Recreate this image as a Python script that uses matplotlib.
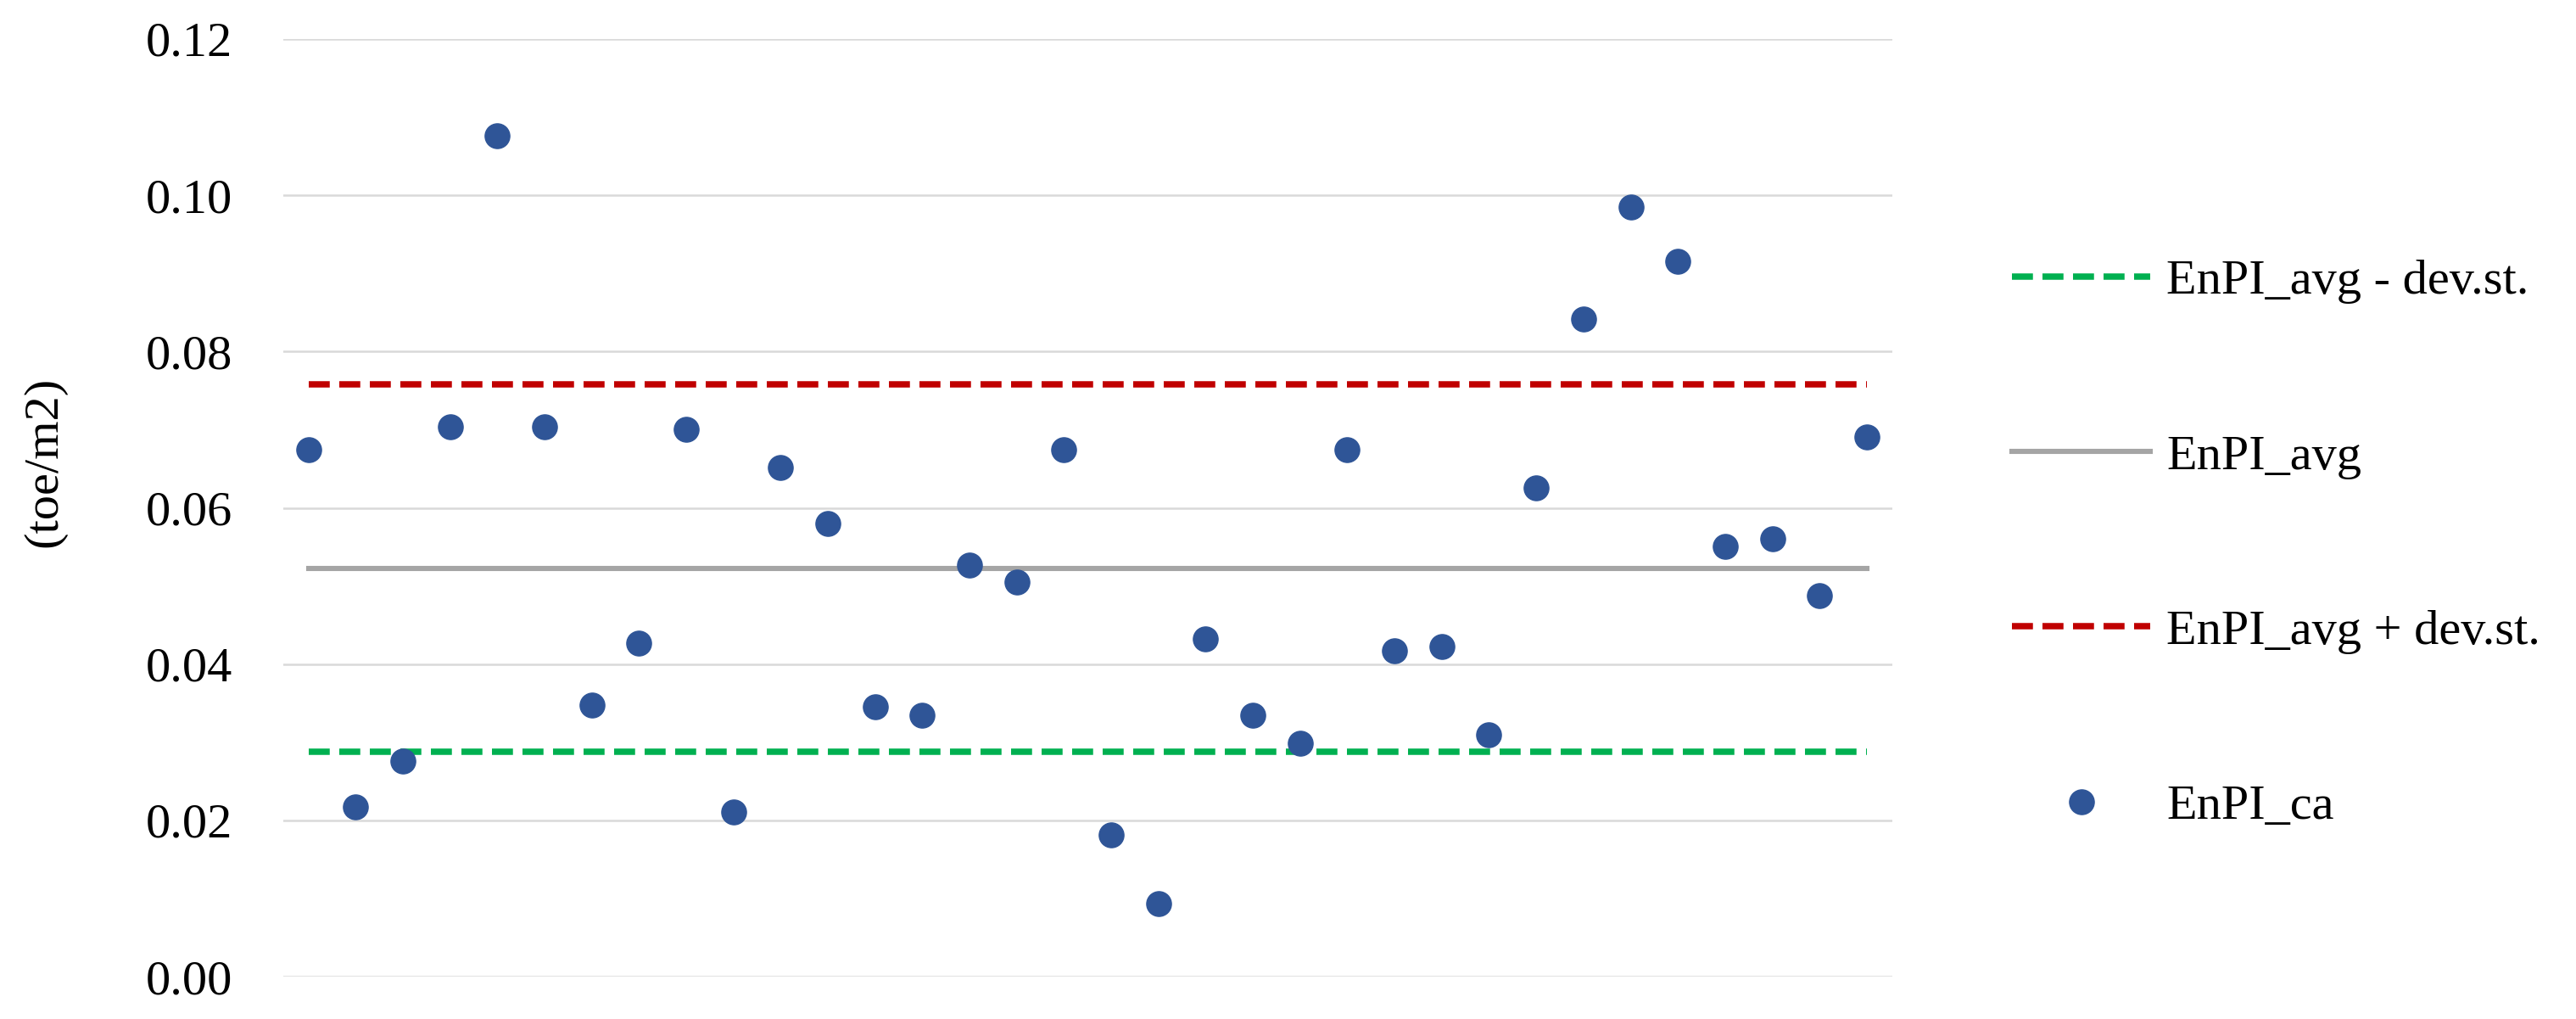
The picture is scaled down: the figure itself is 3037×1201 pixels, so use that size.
import matplotlib
matplotlib.use("Agg")
import matplotlib.pyplot as plt
import numpy as np
from matplotlib.lines import Line2D

# data
enpi_ca = [0.0674, 0.0217, 0.0276, 0.0704, 0.1076, 0.0704, 0.0348, 0.0427,
           0.0701, 0.0211, 0.0652, 0.0580, 0.0345, 0.0335, 0.0527, 0.0505,
           0.0674, 0.0181, 0.0093, 0.0432, 0.0335, 0.0299, 0.0674, 0.0417,
           0.0423, 0.0309, 0.0626, 0.0842, 0.0985, 0.0916, 0.0551, 0.0560,
           0.0488, 0.0691]
enpi_avg = 0.0522
enpi_low = 0.0288   # avg - dev.st.
enpi_high = 0.0758  # avg + dev.st.
yticks = [0.00, 0.02, 0.04, 0.06, 0.08, 0.10, 0.12]

plt.rcParams['font.family'] = ['Liberation Serif', 'DejaVu Serif']

fig = plt.figure(figsize=(30.37, 12.01), dpi=100)
ax = fig.add_axes([0.110, 0.0416, 0.6246, 0.9201])

x = np.arange(1, len(enpi_ca) + 1)

ax.plot([x[0], x[-1]], [enpi_low, enpi_low], color="#00b050", lw=5.4,
        dashes=(3.3, 1.5), zorder=2)
ax.plot([x[0], x[-1]], [enpi_avg, enpi_avg], color="#a5a5a5", lw=4.4, zorder=2)
ax.plot([x[0], x[-1]], [enpi_high, enpi_high], color="#c00000", lw=5.4,
        dashes=(3.3, 1.5), zorder=2)
ax.plot(x, enpi_ca, linestyle="none", marker="o", ms=21, color="#2f5597",
        zorder=3)

ax.set_xlim(0.47, len(enpi_ca) + 0.54)
ax.set_ylim(0, 0.12)
ax.set_yticks(yticks)
ax.set_yticklabels([f"{v:.2f}" for v in yticks])
ax.set_xticks([])
ax.yaxis.grid(True, color="#d9d9d9", lw=1.8)
ax.set_axisbelow(True)
for s in ax.spines.values():
    s.set_visible(False)
ax.tick_params(axis="y", length=0, pad=43, labelsize=42)

fig.text(52 / 3037, 1 - 544 / 1201, "(toe/m2)", rotation=90, fontsize=42,
         ha="center", va="center")

handles = [
    Line2D([], [], color="#00b050", lw=5.4, dashes=(3.3, 1.5)),
    Line2D([], [], color="#a5a5a5", lw=4.4),
    Line2D([], [], color="#c00000", lw=5.4, dashes=(3.3, 1.5)),
    Line2D([], [], linestyle="none", marker="o", ms=21, color="#2f5597"),
]
labels = ["EnPI_avg - dev.st.", "EnPI_avg", "EnPI_avg + dev.st.", "EnPI_ca"]
fig.legend(handles, labels, loc="center left", bbox_to_anchor=(0.781, 0.466),
           frameon=False, fontsize=42, handlelength=2.8, handletextpad=0.33,
           labelspacing=2.63, borderpad=0, borderaxespad=0)

fig.savefig("out.png", dpi=100)
